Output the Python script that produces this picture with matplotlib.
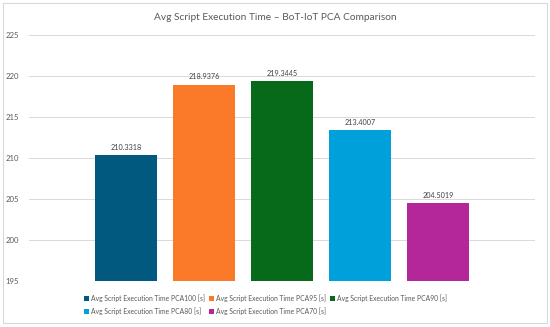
import numpy as np
import matplotlib
matplotlib.use("Agg")
import matplotlib.pyplot as plt
from matplotlib.patches import Rectangle

plt.rcParams["font.family"] = ["Lato", "DejaVu Sans"]

series = ["PCA100", "PCA95", "PCA90", "PCA80", "PCA70"]
times = [210.3318, 218.9376, 219.3445, 213.4007, 204.5019]
colors = ["#02597F", "#FA7A2A", "#066A1A", "#00A0DA", "#B4279B"]
yticks = [195, 200, 205, 210, 215, 220, 225]

fig = plt.figure(figsize=(5.5, 3.27), dpi=100)
ax = fig.add_axes([29 / 550, 1 - 281 / 327, 506 / 550, 246 / 327])

# chart-area border like the spreadsheet export
fig.patches.append(Rectangle((3 / 550, 4 / 327), 544 / 550, 320 / 327,
                             transform=fig.transFigure, fill=False,
                             edgecolor="#D9D9D9", linewidth=0.8))

x = np.arange(len(series))
handles = []
for i, (name, val, c) in enumerate(zip(series, times, colors)):
    b = ax.bar(x[i], val - 195, bottom=195, width=0.79, color=c,
               label=f"Avg Script Execution Time {name} [s]", zorder=3)
    handles.append(b)
    ax.text(x[i], val + 0.55, f"{val:.4f}", ha="center", va="bottom",
            fontsize=5.2, color="#404040")

ax.set_xlim(-1.245, 5.245)
ax.set_ylim(195, 225)
ax.set_yticks(yticks)
ax.set_xticks([])
ax.tick_params(axis="y", length=0, labelsize=5.6, labelcolor="#595959", pad=7)
ax.grid(axis="y", color="#D9D9D9", linewidth=0.7, zorder=0)
for s in ax.spines.values():
    s.set_visible(False)

fig.text(0.5, 1 - 17 / 327, "Avg Script Execution Time \u2013 BoT-IoT PCA Comparison",
         ha="center", va="center", fontsize=7.3, color="#595959")

# order so rows read 100, 95, 90 / 80, 70
order = [0, 3, 1, 4, 2]
leg = fig.legend([handles[i] for i in order],
                 [handles[i].get_label() for i in order],
                 ncol=3, loc="center", bbox_to_anchor=(0.483, 1 - 304.5 / 327),
                 frameon=False, fontsize=4.9, handlelength=0.7, handleheight=0.7,
                 handletextpad=0.3, columnspacing=0.6, labelspacing=0.75,
                 labelcolor="#595959")

fig.savefig("out.png", dpi=100)
